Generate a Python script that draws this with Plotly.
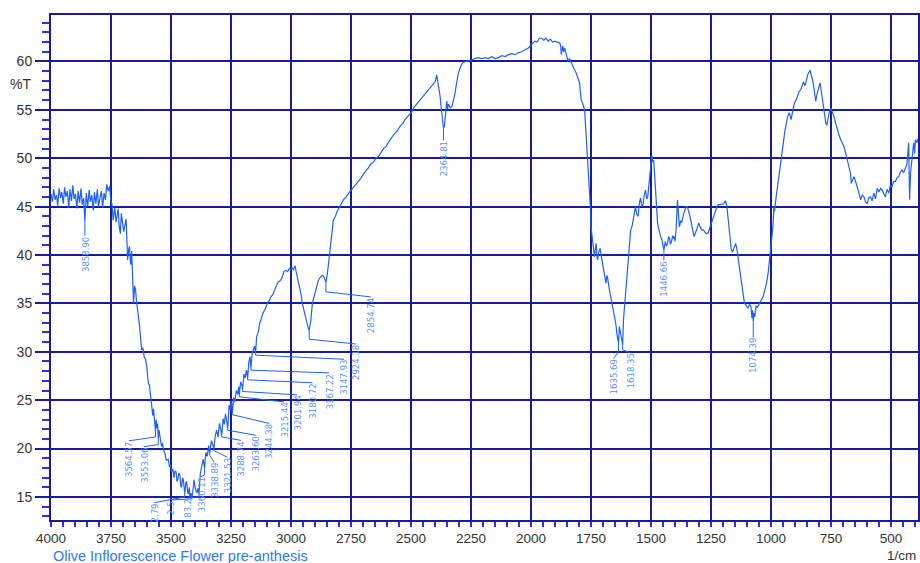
import plotly.graph_objects as go

# ---------------- data ----------------
wavenumber = [
    4000, 3994, 3989, 3983, 3977, 3972, 3966, 3960, 3955, 3949, 3943, 3938, 3932, 3926, 3921,
    3915, 3909, 3904, 3898, 3892, 3887, 3881, 3875, 3870, 3864, 3858.9, 3853, 3847, 3841, 3836,
    3830, 3824, 3819, 3813, 3807, 3802, 3796, 3790, 3785, 3779, 3773, 3768, 3762, 3756, 3750,
    3746, 3741, 3739, 3734, 3729, 3725, 3720, 3716, 3711, 3707, 3702, 3697, 3692, 3687, 3683,
    3681, 3676, 3673, 3669, 3667, 3664, 3660, 3656, 3652, 3648, 3644, 3640, 3636, 3631, 3627,
    3622, 3617, 3612, 3606, 3601, 3597, 3594, 3590, 3587, 3583, 3580, 3576, 3573, 3570, 3567,
    3564.6, 3562, 3559, 3556, 3553.1, 3550, 3546, 3542, 3539, 3535, 3532, 3528, 3525, 3521, 3518,
    3512, 3507, 3502, 3497, 3492, 3488, 3483, 3479, 3475, 3472, 3467, 3463, 3459, 3456, 3452,
    3449, 3445, 3442.8, 3438, 3435, 3431, 3428, 3424, 3421, 3417, 3412.5, 3408, 3404, 3400, 3396,
    3392, 3387, 3383.2, 3378, 3372, 3366, 3360.1, 3355, 3349, 3343, 3338.9, 3332, 3326, 3321.5,
    3316, 3310, 3304, 3298, 3293, 3288.7, 3283, 3278, 3273, 3268, 3263.6, 3258, 3253, 3248, 3244.4,
    3239, 3234, 3228, 3222, 3218, 3215.4, 3210, 3205, 3201.9, 3196, 3191, 3186, 3180.7, 3176, 3171,
    3167.2, 3162, 3157, 3152, 3147.9, 3143, 3137, 3131, 3124, 3117, 3110, 3104, 3097, 3090, 3083,
    3076, 3069, 3062, 3055, 3048, 3040, 3029, 3021, 3014, 3007, 3001, 2997, 2990, 2984, 2979,
    2974, 2968, 2964, 2958, 2953, 2946, 2939, 2933, 2928, 2924.2, 2920, 2917.8, 2914, 2911, 2904,
    2897, 2891, 2886, 2878, 2870, 2864, 2858, 2854.7, 2849, 2845, 2840, 2837, 2832, 2828, 2824,
    2815, 2808, 2803, 2793, 2782, 2770, 2760, 2750, 2740, 2730, 2719, 2710, 2700, 2690, 2678,
    2668, 2657, 2646, 2636, 2625, 2615, 2605, 2594, 2582, 2570, 2558, 2546, 2534, 2522, 2510,
    2497, 2486, 2476, 2466, 2455, 2445, 2434, 2422, 2410, 2400, 2393, 2389, 2386, 2382, 2379,
    2375, 2372, 2367, 2364.8, 2361, 2358, 2355, 2351, 2348, 2345, 2342, 2337, 2330, 2324, 2317,
    2310, 2303, 2296, 2289, 2282, 2275, 2262, 2250, 2235, 2219, 2205, 2190, 2178, 2164, 2150,
    2136, 2122, 2108, 2094, 2080, 2067, 2053, 2040, 2025, 2011, 2000, 1992, 1984, 1975, 1966,
    1956, 1947, 1938, 1929, 1920, 1910, 1901, 1890, 1880, 1876, 1874, 1868, 1864, 1860, 1853,
    1846, 1840, 1832, 1822, 1812, 1805, 1798, 1794, 1791, 1784, 1777, 1774, 1771, 1767, 1764,
    1760, 1757, 1753, 1750, 1746, 1743, 1740, 1736, 1732, 1729, 1726, 1723, 1718, 1712, 1707,
    1702, 1695, 1688, 1684, 1681, 1675, 1668, 1662, 1657, 1652, 1647, 1642, 1637, 1635.7, 1632,
    1629, 1625, 1622, 1618.4, 1615, 1610, 1606, 1600, 1595, 1590, 1585, 1579, 1574, 1570, 1565,
    1560, 1554, 1549, 1544, 1538, 1533, 1528, 1523, 1518, 1514, 1510, 1505, 1501, 1497, 1493,
    1489, 1485, 1481, 1477, 1473, 1468, 1464, 1459, 1455, 1450, 1446.7, 1441, 1436, 1431, 1427,
    1423, 1419, 1415, 1410, 1407, 1403, 1400, 1395, 1390, 1386, 1382, 1377, 1372, 1365, 1359,
    1354, 1349, 1344, 1338, 1330, 1325, 1321, 1315, 1310, 1302, 1296, 1290, 1283, 1277, 1270,
    1262, 1253, 1244, 1235, 1228, 1221, 1214, 1205, 1198, 1191, 1185, 1180, 1173, 1166, 1161,
    1157, 1152, 1148, 1143, 1139, 1131, 1125, 1118, 1111, 1104, 1097, 1090, 1084, 1080, 1077,
    1074.4, 1071, 1068, 1063, 1057, 1050, 1042, 1033, 1026, 1019, 1012, 1005, 1000, 993, 988,
    986, 979, 972, 966, 959, 952, 942, 931, 924, 917, 910, 903, 896, 890, 883,
    876, 870, 865, 860, 855, 848, 843, 837, 833, 827, 820, 814, 809, 804, 796,
    791, 786, 781, 776, 772, 768, 763, 758, 751, 745, 738, 731, 724, 717, 710,
    703, 696, 689, 682, 676, 669, 666, 660, 655, 648, 641, 634, 627, 620, 613,
    607, 600, 593, 586, 579, 572, 565, 558, 551, 544, 537, 530, 524, 517, 510,
    503, 496, 489, 482, 475, 468, 461, 455, 448, 441, 434, 427, 425, 423, 419,
    416, 411, 406, 402, 399, 392, 390,
]

transmittance = [
    46.3, 45.5, 46.8, 45.7, 46.2, 45.1, 46.9, 45.9, 46.5, 45.3, 47.0, 46.0, 46.6, 44.9, 46.8,
    45.6, 47.2, 45.8, 46.3, 44.8, 46.6, 45.4, 46.9, 45.2, 45.9, 43.5, 46.4, 45.0, 46.7, 45.5,
    46.2, 44.6, 46.5, 45.3, 46.8, 45.0, 45.9, 46.6, 44.9, 46.4, 45.7, 47.3, 46.6, 47.1, 45.4,
    45.3, 43.6, 44.2, 44.9, 43.4, 44.1, 44.8, 43.0, 42.2, 44.3, 43.5, 42.4, 43.1, 43.7, 41.0,
    39.5, 40.6, 40.9, 39.2, 39.0, 40.4, 37.5, 35.0, 36.8, 36.5, 35.3, 34.6, 33.5, 32.6, 31.5,
    30.2, 30.4, 29.5, 29.2, 28.5, 27.4, 26.7, 26.6, 25.8, 25.4, 24.6, 23.4, 24.1, 22.8, 22.2,
    21.8, 23.0, 22.1, 22.6, 21.1, 21.9, 21.0, 20.6, 20.2, 20.6, 19.9, 19.6, 19.5, 18.9, 18.8,
    18.9, 18.2, 18.3, 17.6, 17.9, 17.0, 17.7, 17.6, 16.6, 16.8, 17.5, 17.2, 16.1, 16.0, 17.0,
    16.8, 15.9, 15.4, 16.5, 16.6, 15.6, 15.3, 16.0, 15.0, 15.4, 15.0, 15.8, 16.8, 16.0, 15.6,
    15.4, 15.9, 15.3, 17.4, 18.0, 18.9, 18.0, 19.6, 19.2, 20.3, 19.5, 20.8, 20.4, 20.0,
    21.3, 21.9, 21.2, 22.6, 22.0, 21.4, 23.1, 22.5, 23.6, 23.0, 22.1, 24.5, 24.0, 24.9, 23.7,
    25.3, 24.8, 26.0, 25.6, 26.4, 25.55, 26.9, 26.6, 26.1, 27.7, 27.3, 28.1, 27.3, 28.9, 29.5,
    28.3, 29.8, 30.3, 30.6, 29.85, 31.6, 32.0, 32.9, 33.4, 34.0, 34.3, 34.7, 35.1, 35.3, 35.7,
    35.9, 36.4, 36.7, 37.2, 37.3, 37.5, 38.3, 38.4, 38.3, 38.6, 38.4, 38.7, 38.5, 38.9, 38.3,
    37.8, 37.2, 36.8, 35.9, 35.0, 34.2, 33.3, 32.8, 32.4, 32.2, 32.8, 33.2, 34.2, 35.0, 35.7,
    36.4, 37.0, 37.4, 37.7, 37.9, 37.8, 37.4, 37.2, 38.0, 38.8, 40.2, 40.3, 41.8, 42.6, 43.6,
    44.0, 44.5, 44.7, 45.2, 45.7, 46.0, 46.4, 46.7, 47.0, 47.2, 47.6, 47.9, 48.3, 48.6, 49.0,
    49.4, 49.6, 50.0, 50.2, 50.6, 51.0, 51.2, 51.7, 52.1, 52.5, 52.8, 53.3, 53.6, 54.1, 54.4,
    54.8, 55.3, 55.6, 55.9, 56.2, 56.6, 56.9, 57.3, 57.6, 57.9, 58.6, 58.0, 57.8, 57.0, 56.4,
    55.4, 54.7, 53.8, 53.1, 53.3, 54.3, 55.6, 55.9, 55.1, 55.6, 55.5, 55.2, 55.3, 55.9, 56.7,
    57.8, 58.8, 59.3, 59.7, 59.9, 60.0, 60.1, 60.1, 60.3, 60.4, 60.3, 60.4, 60.3, 60.5, 60.3,
    60.4, 60.6, 60.5, 60.7, 60.8, 60.7, 60.9, 61.0, 61.2, 61.4, 61.7, 61.9, 62.1, 62.0, 62.4,
    62.4, 62.2, 62.4, 62.1, 62.3, 62.0, 62.1, 62.0, 61.9, 61.5, 60.7, 61.6, 61.0, 61.4, 60.6,
    60.0, 60.3, 59.8, 59.3, 58.8, 58.3, 57.8, 56.7, 56.0, 55.6, 55.0, 53.8, 52.6, 51.5, 50.2,
    49.0, 47.4, 45.0, 42.9, 41.8, 41.2, 40.4, 39.8, 40.7, 41.2, 40.1, 39.5, 40.3, 40.7, 39.8,
    39.1, 38.2, 37.1, 37.9, 37.6, 36.6, 35.7, 34.8, 34.0, 33.6, 32.9, 31.8, 30.9, 30.9, 32.6,
    32.2, 32.0, 31.2, 30.7, 33.3, 35.0, 36.4, 38.2, 39.8, 41.5, 42.6, 43.0, 43.6, 44.3, 45.0,
    44.2, 44.0, 45.3, 45.9, 45.0, 45.3, 46.3, 46.7, 45.8, 46.0, 47.0, 48.1, 49.0, 50.3, 49.6,
    49.8, 48.2, 46.7, 45.0, 43.3, 42.7, 42.2, 41.8, 41.6, 41.0, 40.5, 41.4, 40.9, 41.2, 41.9,
    41.7, 41.1, 41.4, 42.0, 41.7, 41.9, 41.4, 43.0, 45.7, 44.0, 42.9, 43.5, 43.4, 44.2, 44.7,
    45.0, 45.0, 44.6, 44.0, 43.0, 42.4, 41.9, 42.3, 42.6, 43.3, 43.0, 42.6, 42.6, 42.4, 42.2,
    42.3, 42.9, 43.6, 44.3, 44.8, 45.2, 45.2, 45.3, 45.3, 45.6, 45.2, 44.0, 42.5, 40.6, 40.3,
    40.6, 41.0, 41.2, 40.7, 40.0, 38.5, 37.1, 36.0, 35.0, 34.8, 34.5, 34.9, 34.7, 33.5, 34.3,
    33.1, 34.0, 33.6, 34.7, 34.6, 35.0, 35.3, 35.7, 36.3, 37.1, 38.2, 39.8, 40.8, 42.8, 45.0,
    44.5, 46.0, 47.4, 48.6, 49.8, 51.2, 52.9, 54.3, 54.7, 54.0, 55.0, 55.7, 56.0, 56.4, 56.9,
    57.1, 57.6, 57.9, 57.5, 57.8, 58.6, 58.8, 59.1, 58.6, 58.1, 57.0, 55.9, 56.6, 57.1, 57.8,
    57.0, 56.0, 55.0, 54.0, 53.6, 53.4, 54.1, 54.7, 55.2, 54.8, 54.3, 53.6, 52.9, 52.4, 51.9,
    51.5, 51.2, 50.5, 49.8, 49.3, 48.4, 47.4, 47.9, 48.1, 47.6, 47.1, 46.4, 45.7, 46.2, 46.0,
    45.5, 45.3, 45.9, 46.0, 45.6, 46.4, 45.8, 46.9, 46.5, 46.9, 46.7, 46.3, 46.0, 46.8, 46.4,
    47.2, 47.1, 47.6, 47.6, 48.0, 48.1, 48.6, 48.8, 48.5, 49.0, 49.4, 51.6, 47.0, 45.7, 48.5,
    49.1, 50.2, 51.6, 50.5, 51.9, 51.6, 52.0,
]

# peak annotations: label text, peak position, and where the label sits
peak_labels = ["3858.90", "3564.57", "3553.06", "2.79", "2.5", "83.2", "3360.11",
               "3338.89", "3321.53", "3288.74", "3263.60", "3244.38", "3215.44",
               "3201.94", "3180.72", "3167.22", "3147.93", "2924.18", "2854.74",
               "2364.81", "1635.69", "1618.35", "1446.66", "1074.39"]
peak_wn = [3858.90, 3564.57, 3553.06, 3442.79, 3412.5, 3383.2, 3360.11,
           3338.89, 3321.53, 3288.74, 3263.60, 3244.38, 3215.44,
           3201.94, 3180.72, 3167.22, 3147.93, 2924.18, 2854.74,
           2364.81, 1635.69, 1618.35, 1446.66, 1074.39]
peak_T = [43.5, 21.8, 21.1, 15.4, 15.0, 15.3, 18.0,
          19.5, 20.0, 21.4, 22.1, 23.7, 25.55,
          26.1, 27.3, 28.3, 29.85, 32.2, 37.2,
          53.1, 30.9, 30.7, 40.5, 33.1]
elbow_T = [42.1, 21.2, 20.4, 15.0, 14.8, 15.0, 17.3,
           19.3, 19.8, 21.2, 21.9, 23.5, 25.35,
           25.9, 27.1, 28.1, 29.65, 31.3, 36.2,
           51.9, 30.0, 30.2, 39.5, 31.5]
label_wn = [3858.90, 3676, 3614, 3570, 3500, 3432, 3375,
            3320, 3265, 3209, 3147, 3091, 3029,
            2975, 2911, 2842, 2779, 2731, 2668,
            2364.81, 1656, 1587, 1446.66, 1074.39]
label_T = [42.0, 20.8, 20.2, 14.4, 14.7, 14.9, 17.1,
           18.6, 19.1, 20.85, 21.37, 22.6, 24.82,
           25.55, 26.8, 27.82, 29.23, 30.81, 35.67,
           51.85, 29.33, 29.91, 39.45, 31.5]

x_tick_vals = [4000, 3750, 3500, 3250, 3000, 2750, 2500, 2250, 2000, 1750, 1500, 1250, 1000, 750, 500]
y_tick_vals = [15, 20, 25, 30, 35, 40, 45, 50, 55, 60]

title_text = "Olive Inflorescence Flower pre-anthesis"
x_unit = "1/cm"
y_unit = "%T"

# ---------------- styles ----------------
CURVE = "#1f5fff"
LABEL = "#5a93ff"
GRID = "#1a1a9c"
FRAME = "#1a1aa0"
TICK = "#2f2ff0"
TXT = "#333333"

fig = go.Figure()
fig.add_trace(go.Scatter(x=wavenumber, y=transmittance, mode="lines",
                         line=dict(color=CURVE, width=1.2), hoverinfo="skip",
                         showlegend=False))

lx, ly = [], []
for pw, pt, et, lw, lt in zip(peak_wn, peak_T, elbow_T, label_wn, label_T):
    lx += [pw, pw, lw, None]
    ly += [pt, et, lt, None]
fig.add_trace(go.Scatter(x=lx, y=ly, mode="lines", line=dict(color=CURVE, width=1),
                         hoverinfo="skip", showlegend=False))

for lab, lw, lt in zip(peak_labels, label_wn, label_T):
    fig.add_annotation(x=lw, y=lt, xref="x", yref="y", text=lab, showarrow=False,
                       textangle=-90, xanchor="center", yanchor="top", borderpad=0,
                       font=dict(family="DejaVu Sans Condensed, Liberation Sans Narrow, sans-serif",
                                 size=9.5, color=LABEL))

fig.add_annotation(x=0, y=-0.071, xref="paper", yref="paper", text=title_text,
                   showarrow=False, xanchor="left", yanchor="middle",
                   font=dict(family="Liberation Sans, Arial, sans-serif", size=14.5, color="#2a78ff"))
fig.add_annotation(x=1, y=-0.071, xref="paper", yref="paper", text=x_unit,
                   showarrow=False, xanchor="right", yanchor="middle",
                   font=dict(family="Liberation Sans, Arial, sans-serif", size=13.5, color=TXT))
fig.add_annotation(x=-0.021, y=0.863, xref="paper", yref="paper", text=y_unit,
                   showarrow=False, xanchor="right", yanchor="middle",
                   font=dict(family="Liberation Sans, Arial, sans-serif", size=14, color=TXT))

fig.update_xaxes(range=[4000, 388], tickvals=x_tick_vals,
                 ticktext=[str(v) for v in x_tick_vals],
                 showgrid=True, gridcolor=GRID, gridwidth=1.5,
                 showline=True, linecolor=FRAME, linewidth=2, mirror=True,
                 ticks="outside", ticklen=5, tickcolor=TICK, tickwidth=1.5,
                 minor=dict(dtick=50, tick0=0, ticks="outside", ticklen=5,
                            tickcolor=TICK, tickwidth=1.5, showgrid=False),
                 tickfont=dict(family="Liberation Sans, Arial, sans-serif", size=13.5, color=TXT),
                 zeroline=False)
fig.update_yaxes(range=[12.62, 64.8], tickvals=y_tick_vals,
                 ticktext=[str(v) for v in y_tick_vals],
                 showgrid=True, gridcolor=GRID, gridwidth=1.5,
                 showline=True, linecolor=FRAME, linewidth=2, mirror=True,
                 ticks="outside", ticklen=14, tickcolor=FRAME, tickwidth=1.5,
                 minor=dict(dtick=1, tick0=0, ticks="outside", ticklen=7,
                            tickcolor=TICK, tickwidth=1.5, showgrid=False),
                 tickfont=dict(family="Liberation Sans, Arial, sans-serif", size=14, color=TXT),
                 zeroline=False)

fig.update_layout(width=920, height=563, margin=dict(l=51, r=0, t=15, b=43),
                  paper_bgcolor="white", plot_bgcolor="white", showlegend=False)

fig.write_html("out.html")
